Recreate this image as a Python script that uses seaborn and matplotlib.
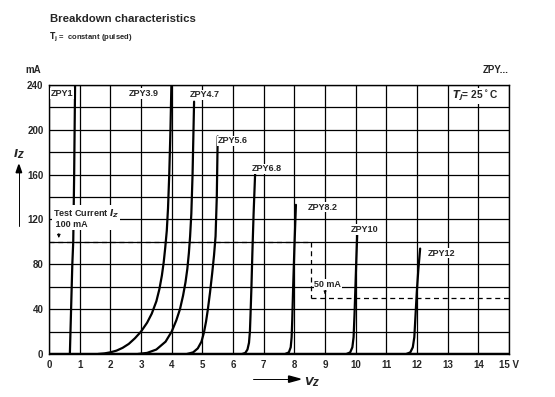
import pandas as pd
import seaborn as sns
import matplotlib.pyplot as plt

# curve points (V in volts, I in mA)
zpy1_v = [0.68, 0.72, 0.76, 0.79, 0.82, 0.85]
zpy1_i = [0, 40, 80, 100, 160, 240]
zpy39_v = [1.6, 1.8, 2.0, 2.2, 2.4, 2.6, 2.8, 3.0, 3.2, 3.35, 3.5, 3.6, 3.68,
           3.74, 3.79, 3.84, 3.88, 3.92, 3.96, 3.99]
zpy39_i = [0, 0.5, 1.5, 3, 5.5, 9, 14, 20, 28, 36, 47, 58, 70,
           82, 95, 110, 130, 160, 200, 240]
zpy47_v = [2.9, 3.2, 3.5, 3.8, 4.0, 4.15, 4.27, 4.37, 4.45, 4.51, 4.56, 4.6,
           4.64, 4.68, 4.73]
zpy47_i = [0, 1, 4, 11, 20, 30, 40, 52, 64, 76, 90, 105, 125, 160, 225]
zpy56_v = [4.5, 4.7, 4.85, 4.97, 5.05, 5.12, 5.18, 5.25, 5.32, 5.38, 5.43,
           5.47, 5.5]
zpy56_i = [0, 1.5, 5, 11, 19, 29, 40, 55, 72, 88, 105, 140, 194]
zpy68_v = [6.3, 6.4, 6.47, 6.52, 6.55, 6.57, 6.6, 6.63, 6.67, 6.72]
zpy68_i = [0, 1, 4, 10, 20, 35, 60, 90, 125, 161]
zpy82_v = [7.7, 7.82, 7.88, 7.91, 7.93, 7.96, 8.0, 8.05]
zpy82_i = [0, 1.5, 6, 15, 30, 60, 95, 133]
zpy10_v = [9.7, 9.82, 9.89, 9.93, 9.96, 9.99, 10.02, 10.05]
zpy10_i = [0, 1.5, 6, 15, 35, 60, 85, 108]
zpy12_v = [11.65, 11.78, 11.86, 11.91, 11.95, 11.99, 12.04, 12.1]
zpy12_i = [0, 1.5, 6, 15, 35, 55, 75, 94]

names = ['ZPY1', 'ZPY3.9', 'ZPY4.7', 'ZPY5.6', 'ZPY6.8', 'ZPY8.2', 'ZPY10', 'ZPY12']
volts = [zpy1_v, zpy39_v, zpy47_v, zpy56_v, zpy68_v, zpy82_v, zpy10_v, zpy12_v]
amps = [zpy1_i, zpy39_i, zpy47_i, zpy56_i, zpy68_i, zpy82_i, zpy10_i, zpy12_i]
label_x = [0.05, 2.6, 4.6, 5.5, 6.6, 8.45, 9.85, 12.35]
label_y = [232, 232, 231, 190, 165, 131, 111, 90]

# test current markers
test_hi = [0, 8.55]
test_lo = [8.55, 15]

frames = []
for n, v, i in zip(names, volts, amps):
    frames.append(pd.DataFrame({'device': n, 'V': v, 'I': i}))
df = pd.concat(frames, ignore_index=True)

sns.set_style("white")
plt.rcParams['font.family'] = ['Liberation Sans', 'DejaVu Sans']
plt.rcParams['font.weight'] = 'bold'

fig = plt.figure(figsize=(5.55, 3.97), dpi=100)
ax = fig.add_axes([0.0883, 0.1083, 0.829, 0.678])

# grid
ax.set_xlim(0, 15)
ax.set_ylim(0, 240)
ax.set_xticks(range(0, 16))
ax.set_yticks(range(0, 241, 40))
ax.set_yticks(range(0, 241, 20), minor=True)
ax.grid(True, which='both', color='black', linewidth=0.9)
ax.set_axisbelow(True)
for s in ax.spines.values():
    s.set_color('black')
    s.set_linewidth(1)

ax.axhline(0, color='black', linewidth=2.5, zorder=2)

sns.lineplot(data=df, x='V', y='I', hue='device', units='device', estimator=None,
             sort=False, palette=['black'] * len(names), legend=False,
             linewidth=1.6, ax=ax, zorder=3)

# dashed test current lines
dash = (0, (4, 3))
ax.plot(test_hi, [100, 100], color='black', linestyle=dash, linewidth=0.9, zorder=3)
ax.plot([8.55, 8.55], [100, 50], color='black', linestyle=dash, linewidth=0.9, zorder=3)
ax.plot(test_lo, [50, 50], color='black', linestyle=dash, linewidth=0.9, zorder=3)

box = dict(facecolor='white', edgecolor='none', pad=0.6)
for n, x, y in zip(names, label_x, label_y):
    ax.text(x, y, n, fontsize=6.5, fontweight='bold', va='center', ha='left',
            bbox=box, zorder=4)

ax.text(0.12, 121, 'Test Current $\\mathbfit{I_Z}$\n 100 mA', fontsize=6.5,
        fontweight='bold', va='center', ha='left', linespacing=1.1, bbox=box, zorder=4)
ax.annotate('', xy=(0.32, 101), xytext=(0.32, 110),
            arrowprops=dict(arrowstyle='-|>', color='black', lw=0.6,
                            mutation_scale=5), zorder=4)
ax.text(8.65, 62, '50 mA', fontsize=6.5, fontweight='bold', va='center', ha='left',
        bbox=box, zorder=4)
ax.annotate('', xy=(9.0, 51), xytext=(9.0, 57),
            arrowprops=dict(arrowstyle='-|>', color='black', lw=0.6,
                            mutation_scale=4), zorder=4)
ax.text(13.15, 230, '$\\mathbfit{T_j}$= 25$^\\circ$C', fontsize=7.3, fontweight='bold',
        va='center', ha='left', bbox=box, zorder=4)

# tick labels
ax.tick_params(axis='both', length=0, labelsize=7, pad=4)
xlabels = [str(k) for k in range(15)] + ['15 V']
ax.set_xticklabels(xlabels, fontweight='bold')
ax.set_yticklabels([str(k) for k in range(0, 241, 40)], fontweight='bold')
ax.set_xlabel('')
ax.set_ylabel('')

# axis names and arrows in figure coords
fig.text(0.06, 0.815, 'mA', fontsize=7, fontweight='bold', ha='center')
fig.text(0.035, 0.605, '$\\mathbfit{I_Z}$', fontsize=8, ha='center')
fig.add_artist(plt.Line2D([0.034, 0.034], [0.43, 0.58], color='black', lw=0.7))
fig.patches.append(plt.Polygon([[0.029, 0.565], [0.039, 0.565], [0.034, 0.585]],
                               closed=True, color='black', transform=fig.transFigure))
fig.add_artist(plt.Line2D([0.455, 0.528], [0.045, 0.045], color='black', lw=0.7))
fig.patches.append(plt.Polygon([[0.52, 0.037], [0.52, 0.053], [0.541, 0.045]],
                               closed=True, color='black', transform=fig.transFigure))
fig.text(0.548, 0.03, '$\\mathbfit{V_Z}$', fontsize=8, ha='left')

fig.text(0.09, 0.945, 'Breakdown characteristics', fontsize=8.2, fontweight='bold')
fig.text(0.088, 0.9, '$\\mathbf{T_j}$ =  constant (pulsed)', fontsize=5.5, fontweight='bold')
fig.text(0.893, 0.815, 'ZPY...', fontsize=7, fontweight='bold', ha='center')

fig.savefig('out.png', dpi=100)
